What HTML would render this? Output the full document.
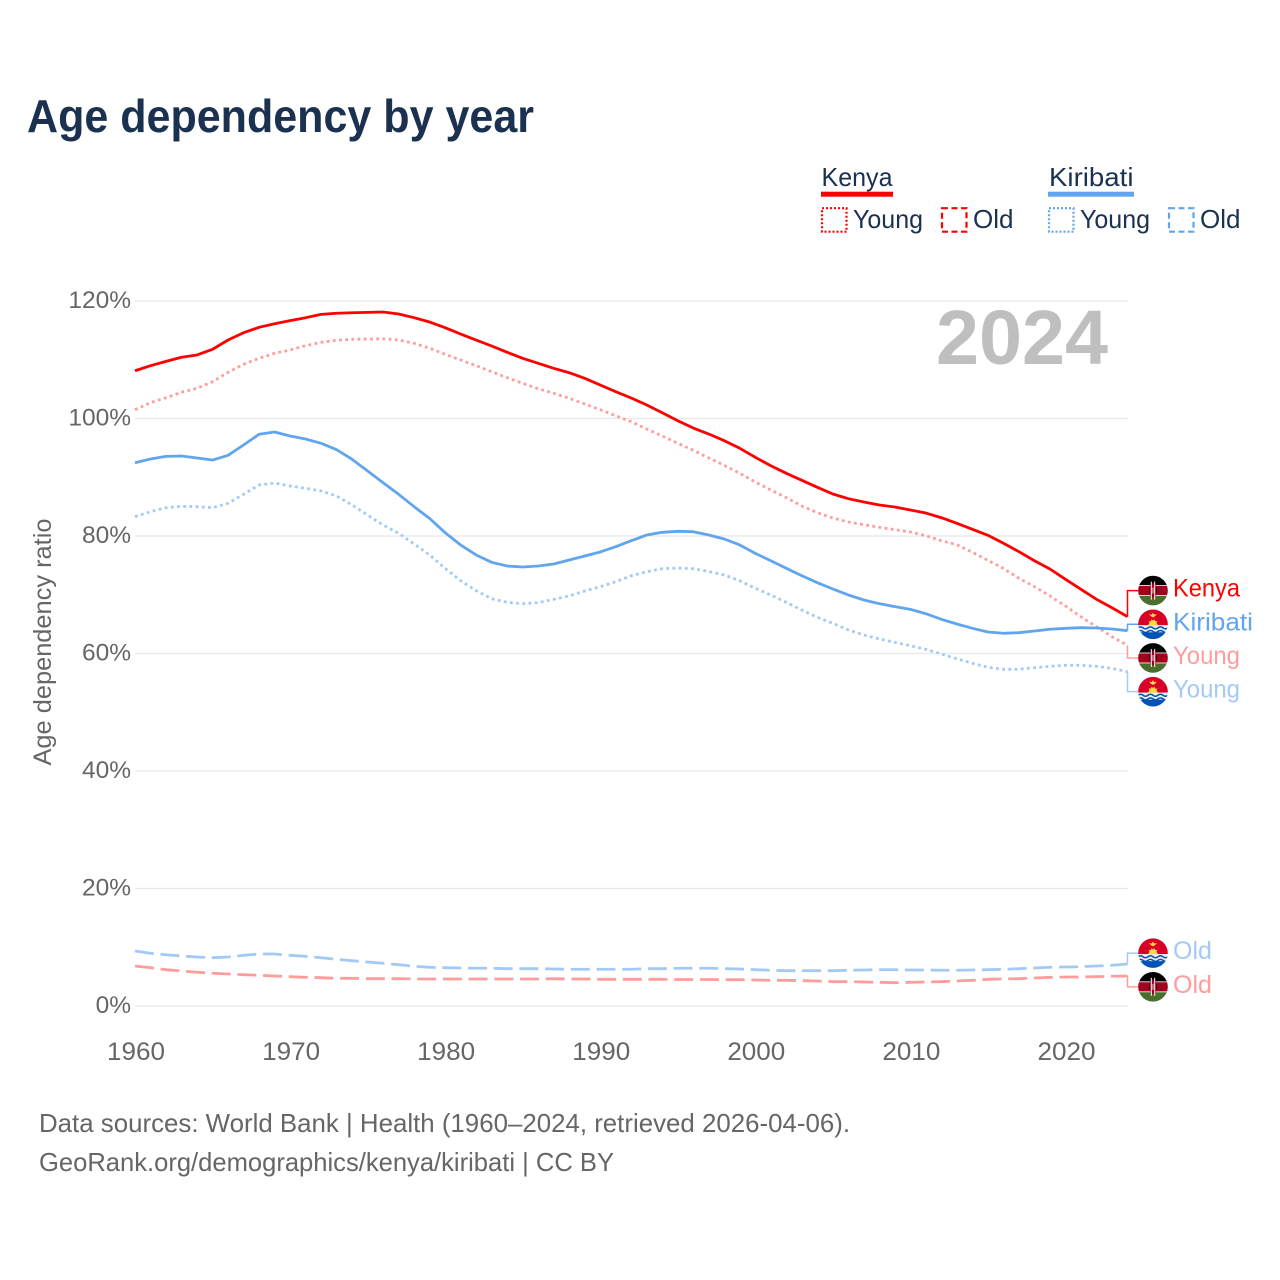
<!DOCTYPE html>
<html lang="en">
<head>
<meta charset="utf-8">
<title>Age dependency by year</title>
<style>
html,body{margin:0;padding:0;background:#fff;}
svg{display:block;}
text{font-family:"Liberation Sans",sans-serif;}
</style>
</head>
<body>
<svg id="chart" xmlns="http://www.w3.org/2000/svg" width="1280" height="1280" viewBox="0 0 1280 1280">
  <defs>
    <clipPath id="flag-clip"><circle cx="0" cy="0" r="14.8"/></clipPath>
    <symbol id="flag-kenya" viewBox="-15 -15 30 30" overflow="visible">
      <g clip-path="url(#flag-clip)">
        <rect x="-15" y="-15" width="30" height="30" fill="#fff"/>
        <rect x="-15" y="-15" width="30" height="9.6" fill="#000"/>
        <rect x="-15" y="-4.6" width="30" height="9.2" fill="#a2001d"/>
        <rect x="-15" y="5.4" width="30" height="9.6" fill="#496e2d"/>
        <ellipse cx="0" cy="0" rx="3.8" ry="7.4" fill="#a2001d"/>
        <path d="M-3.2 -3.8A5 7 0 0 0 -3.2 3.8ZM3.2 -3.8A5 7 0 0 1 3.2 3.8Z" fill="#000"/>
        <rect x="-2.2" y="-9" width="1" height="18" fill="#fff"/>
        <rect x="1.2" y="-9" width="1" height="18" fill="#fff"/>
        <rect x="-0.4" y="-3" width="0.8" height="6" fill="#fff"/>
      </g>
    </symbol>
    <symbol id="flag-kiribati" viewBox="-15 -15 30 30" overflow="visible">
      <g clip-path="url(#flag-clip)">
        <rect x="-15" y="-15" width="30" height="16" fill="#d80027"/>
        <rect x="-15" y="1" width="30" height="7" fill="#f0f0f0"/>
        <rect x="-15" y="8" width="30" height="7" fill="#0052b4"/>
        <path d="M-15 3.6q2.5 -2 5 0t5 0t5 0t5 0t5 0t5 0" fill="none" stroke="#0052b4" stroke-width="1.5"/>
        <path d="M-15 7.2q2.5 -2 5 0t5 0t5 0t5 0t5 0t5 0" fill="none" stroke="#0052b4" stroke-width="1.5"/>
        <path d="M-5 1L-3.4 -1.6L-4.6 -3.2L-2 -3L-1.6 -5L0 -3.8L1.6 -5L2 -3L4.6 -3.2L3.4 -1.6L5 1Z" fill="#ffda44"/>
        <path d="M-4 -10L-1.2 -9.6L0 -11.6L1.2 -9.6L4 -10L1.6 -7.6L0 -6.8L-1.6 -7.6Z" fill="#ffda44"/>
      </g>
    </symbol>
  </defs>

  <text x="27" y="132" font-size="46" font-weight="700" fill="#1a3150" textLength="507" lengthAdjust="spacingAndGlyphs">Age dependency by year</text>

  <g>
    <text x="821.5" y="186" font-size="26" fill="#1a3150" textLength="71" lengthAdjust="spacingAndGlyphs">Kenya</text>
    <rect x="821" y="191.7" width="72" height="5" fill="#ff0000"/>
    <rect x="822" y="208.2" width="24.5" height="23.5" fill="none" stroke="#ff0000" stroke-width="2.2" stroke-dasharray="2 2"/>
    <text x="853" y="228" font-size="26" fill="#1a3150" textLength="70" lengthAdjust="spacingAndGlyphs">Young</text>
    <rect x="942" y="208.2" width="24.5" height="23.5" fill="none" stroke="#ff0000" stroke-width="2.2" stroke-dasharray="6 3.5"/>
    <text x="973" y="228" font-size="26" fill="#1a3150" textLength="40.5" lengthAdjust="spacingAndGlyphs">Old</text>

    <text x="1049" y="186" font-size="26" fill="#1a3150" textLength="84.5" lengthAdjust="spacingAndGlyphs">Kiribati</text>
    <rect x="1048" y="191.7" width="86" height="5" fill="#60a5ee"/>
    <rect x="1049" y="208.2" width="24.5" height="23.5" fill="none" stroke="#60a5ee" stroke-width="2.2" stroke-dasharray="2 2"/>
    <text x="1080" y="228" font-size="26" fill="#1a3150" textLength="70" lengthAdjust="spacingAndGlyphs">Young</text>
    <rect x="1169" y="208.2" width="24.5" height="23.5" fill="none" stroke="#60a5ee" stroke-width="2.2" stroke-dasharray="6 3.5"/>
    <text x="1200" y="228" font-size="26" fill="#1a3150" textLength="40.5" lengthAdjust="spacingAndGlyphs">Old</text>
  </g>

  <g id="grid"></g>
  <g id="y-ticks"></g>
  <g id="x-ticks"></g>
  <text transform="translate(51,642) rotate(-90)" text-anchor="middle" font-size="25" fill="#666666" textLength="247" lengthAdjust="spacingAndGlyphs">Age dependency ratio</text>

  <text x="936" y="364" font-size="77" font-weight="700" fill="#bfbfbf" textLength="172" lengthAdjust="spacingAndGlyphs">2024</text>

  <g id="series"></g>
  <g id="end-labels"></g>

  <text x="39" y="1132" font-size="26" fill="#666666" textLength="811" lengthAdjust="spacingAndGlyphs">Data sources: World Bank | Health (1960–2024, retrieved 2026-04-06).</text>
  <text x="39" y="1171" font-size="26" fill="#666666" textLength="575" lengthAdjust="spacingAndGlyphs">GeoRank.org/demographics/kenya/kiribati | CC BY</text>
</svg>

<script>
const years = [1960,1961,1962,1963,1964,1965,1966,1967,1968,1969,
1970,1971,1972,1973,1974,1975,1976,1977,1978,1979,
1980,1981,1982,1983,1984,1985,1986,1987,1988,1989,
1990,1991,1992,1993,1994,1995,1996,1997,1998,1999,
2000,2001,2002,2003,2004,2005,2006,2007,2008,2009,
2010,2011,2012,2013,2014,2015,2016,2017,2018,2019,
2020,2021,2022,2023,2024];
const yTickValues = [0,20,40,60,80,100,120];
const yTickLabels = ['0%','20%','40%','60%','80%','100%','120%'];
const xTickValues = [1960,1970,1980,1990,2000,2010,2020];
const xTickLabels = ['1960','1970','1980','1990','2000','2010','2020'];

const kenyaTotal = [108.13,108.99,109.73,110.42,110.81,111.78,113.36,114.60,115.52,116.13,
116.65,117.16,117.73,117.91,118.00,118.07,118.13,117.79,117.16,116.42,
115.45,114.38,113.36,112.34,111.27,110.25,109.39,108.54,107.79,106.84,
105.70,104.56,103.49,102.30,100.98,99.62,98.38,97.36,96.22,94.93,
93.39,91.96,90.67,89.48,88.29,87.15,86.35,85.79,85.27,84.94,
84.42,83.91,83.11,82.16,81.14,80.12,78.76,77.33,75.79,74.38,
72.63,70.93,69.22,67.79,66.26];
const kenyaYoung = [101.50,102.69,103.54,104.46,105.14,106.26,107.86,109.22,110.25,111.10,
111.66,112.39,112.97,113.31,113.48,113.53,113.58,113.36,112.80,111.95,
110.93,109.96,108.99,107.96,106.94,105.99,105.07,104.29,103.44,102.47,
101.50,100.48,99.45,98.21,97.02,95.78,94.59,93.28,92.03,90.67,
89.19,87.83,86.52,85.11,83.97,83.06,82.38,81.92,81.48,81.07,
80.68,80.05,79.20,78.52,77.22,75.86,74.47,72.80,71.37,69.79,
68.08,66.26,64.56,62.86,61.39];
const kenyaOld = [6.81,6.52,6.18,5.96,5.74,5.57,5.45,5.33,5.23,5.11,
4.99,4.88,4.82,4.71,4.71,4.65,4.65,4.65,4.60,4.60,
4.60,4.60,4.60,4.60,4.60,4.60,4.60,4.65,4.60,4.60,
4.54,4.54,4.54,4.54,4.54,4.51,4.51,4.51,4.48,4.48,
4.43,4.37,4.37,4.31,4.26,4.14,4.14,4.09,4.03,3.97,
4.03,4.09,4.14,4.26,4.37,4.54,4.60,4.65,4.77,4.88,
4.94,4.94,4.99,5.06,5.11];
const kiribatiTotal = [92.47,93.10,93.56,93.62,93.28,92.93,93.73,95.49,97.31,97.70,
97.02,96.51,95.78,94.69,93.05,91.06,89.07,87.10,84.99,82.98,
80.56,78.47,76.77,75.52,74.89,74.72,74.89,75.23,75.91,76.60,
77.28,78.18,79.20,80.17,80.63,80.80,80.73,80.17,79.49,78.47,
77.05,75.79,74.50,73.24,72.05,70.98,69.96,69.11,68.48,67.97,
67.52,66.77,65.82,65.02,64.29,63.66,63.44,63.54,63.83,64.12,
64.29,64.39,64.34,64.17,63.88];
const kiribatiYoung = [83.28,84.14,84.82,85.05,84.99,84.82,85.56,87.10,88.68,89.02,
88.51,88.12,87.66,86.81,85.27,83.57,81.87,80.46,78.64,76.77,
74.50,72.39,70.69,69.33,68.71,68.48,68.65,69.22,69.79,70.64,
71.37,72.22,73.24,73.92,74.43,74.55,74.43,73.96,73.36,72.39,
71.10,69.96,68.71,67.40,66.16,65.14,64.00,63.15,62.47,61.90,
61.33,60.71,59.91,59.11,58.33,57.65,57.31,57.31,57.58,57.82,
57.99,57.99,57.82,57.48,56.90];
const kiribatiOld = [9.36,8.97,8.73,8.51,8.34,8.22,8.34,8.63,8.85,8.85,
8.63,8.46,8.22,7.95,7.71,7.49,7.27,7.03,6.76,6.59,
6.52,6.47,6.42,6.42,6.35,6.35,6.35,6.30,6.25,6.25,
6.25,6.25,6.25,6.35,6.35,6.42,6.42,6.42,6.35,6.30,
6.18,6.08,6.01,6.01,6.01,6.01,6.08,6.13,6.18,6.18,
6.13,6.13,6.08,6.08,6.13,6.18,6.25,6.35,6.47,6.59,
6.64,6.69,6.81,6.93,7.15];

const NS = 'http://www.w3.org/2000/svg';
const plotLeft = 135, plotRight = 1128, zeroY = 1006, pxPerPercent = 5.875;
function x(year){ return plotLeft + (year - years[0]) * (plotRight - 0.5 - plotLeft) / (years[years.length-1] - years[0]); }
function y(value){ return zeroY - value * pxPerPercent; }

const RED='#ff0000', BLUE='#60a5ee', PINK='#ff9d9d', SKY='#a3caf5';
const DOT='2.8 3.4', DASH='19 6.7';

const seriesList = [
  {key:'kiribati-old', name:'Old', values:kiribatiOld, color:SKY, dash:DASH, flag:'kiribati'},
  {key:'kenya-old', name:'Old', values:kenyaOld, color:PINK, dash:DASH, flag:'kenya'},
  {key:'kiribati-young', name:'Young', values:kiribatiYoung, color:SKY, dash:DOT, flag:'kiribati'},
  {key:'kenya-young', name:'Young', values:kenyaYoung, color:PINK, dash:DOT, flag:'kenya'},
  {key:'kiribati-total', name:'Kiribati', values:kiribatiTotal, color:BLUE, dash:null, flag:'kiribati'},
  {key:'kenya-total', name:'Kenya', values:kenyaTotal, color:RED, dash:null, flag:'kenya'}
];
const labelWidths = {Kenya:67, Kiribati:80, Young:67, Old:39};

const gridG = document.getElementById('grid');
const yTickG = document.getElementById('y-ticks');
const xTickG = document.getElementById('x-ticks');
const seriesG = document.getElementById('series');
const labelG = document.getElementById('end-labels');

yTickValues.forEach(function(v,i){
  const g = document.createElementNS(NS,'line');
  
  
  g.setAttribute('x1', plotLeft);
  g.setAttribute('x2', plotRight);
  g.setAttribute('y1', y(v));
  g.setAttribute('y2', y(v));
  g.setAttribute('stroke', '#e8e8e8');
  g.setAttribute('stroke-width', '1.2');
  gridG.appendChild(g);

  const t = document.createElementNS(NS,'text');
  
  
  t.setAttribute('x', 131);
  t.setAttribute('y', y(v) + 7);
  t.setAttribute('text-anchor', 'end');
  t.setAttribute('font-size', '24.5');
  t.setAttribute('fill', '#666666');
  t.textContent = yTickLabels[i];
  yTickG.appendChild(t);
});

xTickValues.forEach(function(v,i){
  const t = document.createElementNS(NS,'text');
  
  
  t.setAttribute('x', x(v) - 28);
  t.setAttribute('y', 1060);
  t.setAttribute('font-size', '25');
  t.setAttribute('fill', '#666666');
  t.setAttribute('textLength', '58');
  t.setAttribute('lengthAdjust', 'spacingAndGlyphs');
  t.textContent = xTickLabels[i];
  xTickG.appendChild(t);
});

seriesList.forEach(function(s){
  const p = document.createElementNS(NS,'polyline');
  
  
  p.setAttribute('points', s.values.map(function(v,i){ return x(years[i]).toFixed(2) + ',' + y(v).toFixed(2); }).join(' '));
  p.setAttribute('fill', 'none');
  p.setAttribute('stroke', s.color);
  p.setAttribute('stroke-width', '2.8');
  p.setAttribute('stroke-linejoin', 'round');
  if (s.dash) p.setAttribute('stroke-dasharray', s.dash);
  seriesG.appendChild(p);
});

/* end-label placement: stack overlapping labels around the mean of their line ends */
const spacing = 33.7;
const ends = seriesList.map(function(s){ return {s:s, end:y(s.values[s.values.length-1])}; })
  .sort(function(a,b){ return a.end - b.end; });
const clusters = [];
ends.forEach(function(e){
  const last = clusters[clusters.length-1];
  if (last && e.end - last[last.length-1].end < spacing) last.push(e);
  else clusters.push([e]);
});
clusters.forEach(function(c){
  const mean = c.reduce(function(a,e){ return a + e.end; },0) / c.length;
  c.forEach(function(e,i){ e.labelY = mean + (i - (c.length-1)/2) * spacing; });
});

ends.forEach(function(e){
  const s = e.s;
  const endX = x(years[years.length-1]);
  const c = document.createElementNS(NS,'polyline');
  
  
  c.setAttribute('points', endX + ',' + e.end + ' ' + endX + ',' + e.labelY + ' 1139,' + e.labelY);
  c.setAttribute('fill', 'none');
  c.setAttribute('stroke', s.color);
  c.setAttribute('stroke-width', '1.5');
  labelG.appendChild(c);

  const f = document.createElementNS(NS,'use');
  
  
  f.setAttribute('href', '#flag-' + s.flag);
  f.setAttribute('x', 1138);
  f.setAttribute('y', e.labelY - 15);
  f.setAttribute('width', 30);
  f.setAttribute('height', 30);
  labelG.appendChild(f);

  const t = document.createElementNS(NS,'text');
  
  
  t.setAttribute('x', 1173);
  t.setAttribute('y', e.labelY + 6);
  t.setAttribute('font-size', '25');
  t.setAttribute('fill', s.color);
  t.setAttribute('textLength', labelWidths[s.name]);
  t.setAttribute('lengthAdjust', 'spacingAndGlyphs');
  t.textContent = s.name;
  labelG.appendChild(t);
});
</script>
</body>
</html>
